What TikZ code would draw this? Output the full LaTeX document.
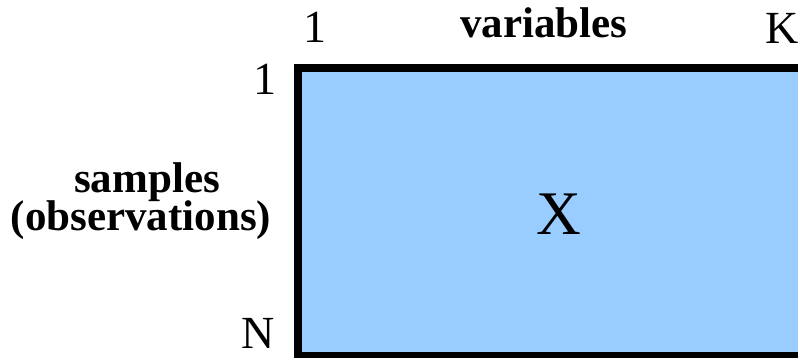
\documentclass[tikz,border=0pt]{standalone}
\usepackage{fontspec}
\setmainfont{Liberation Serif}
\definecolor{matfill}{HTML}{99CCFF}
\tikzset{
  lbl/.style={inner sep=0pt, anchor=base, font=\fontsize{46}{50}\selectfont},
  blbl/.style={inner sep=0pt, anchor=base, font=\fontsize{43}{50}\selectfont\bfseries},
  matrixbox/.style={draw=black, line width=8pt, fill=matfill},
}
\begin{document}
\begin{tikzpicture}[x=1pt,y=1pt]
\useasboundingbox (0,0) rectangle (798,357);
\clip (0,0) rectangle (798,357);
\draw[matrixbox] (298,289) rectangle (810,1);
\node[lbl] (top1) at (314.5,314) {1};
\node[blbl] (vars) at (544,319) {variables};
\node[lbl] (topK) at (782,313) {K};
\node[lbl] (left1) at (265,263) {1};
\node[lbl] (leftN) at (258,9) {N};
\node[blbl] (samp) at (147,165) {samples};
\node[blbl] (obs) at (141,127) {(observations)};
\node[inner sep=0pt, font=\fontsize{62}{70}\selectfont] (X) at (559,143) {X};
\end{tikzpicture}
\end{document}
